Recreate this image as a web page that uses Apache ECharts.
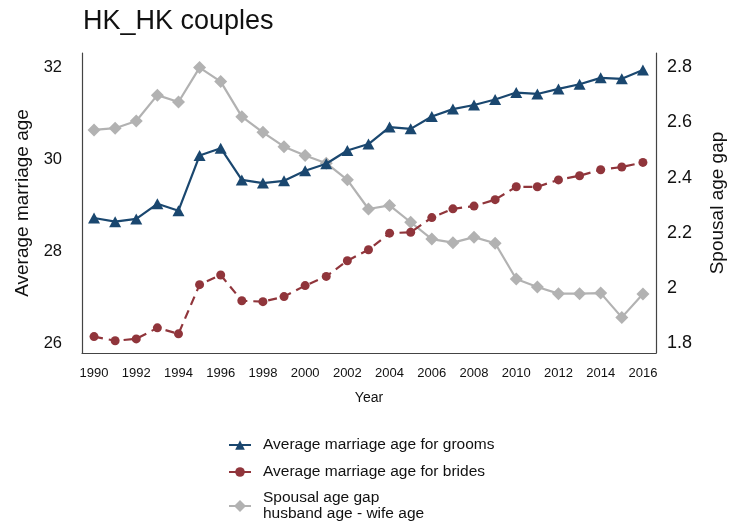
<!DOCTYPE html>
<html>
<head>
<meta charset="utf-8">
<script src="https://cdn.jsdelivr.net/npm/echarts@6/dist/echarts.min.js"></script>
<style>
  html, body { margin: 0; padding: 0; background: #ffffff; }
  #chart { width: 731px; height: 525px; }
</style>
</head>
<body>
<div id="chart"></div>
<script>
// Years on the x axis and the labelled ticks
const years = [1990, 1991, 1992, 1993, 1994, 1995, 1996, 1997, 1998, 1999,
               2000, 2001, 2002, 2003, 2004, 2005, 2006, 2007, 2008, 2009,
               2010, 2011, 2012, 2013, 2014, 2015, 2016];
const yearTicks = [1990, 1992, 1994, 1996, 1998, 2000, 2002, 2004, 2006, 2008, 2010, 2012, 2014, 2016];
const ageTicks = [26, 28, 30, 32];
const gapTicks = [1.8, 2.0, 2.2, 2.4, 2.6, 2.8];

// Series names as shown in the legend
const seriesNames = [
  'Average marriage age for grooms',
  'Average marriage age for brides',
  'Spousal age gap\nhusband age - wife age'
];

// Average marriage age (left axis)
const groomAge = [28.72, 28.64, 28.70, 29.03, 28.88, 30.08, 30.24, 29.55, 29.48, 29.53,
                  29.75, 29.90, 30.19, 30.33, 30.70, 30.66, 30.93, 31.09, 31.18, 31.30,
                  31.45, 31.42, 31.53, 31.63, 31.77, 31.75, 31.94];
const brideAge = [26.14, 26.05, 26.09, 26.33, 26.20, 27.27, 27.48, 26.92, 26.90, 27.01,
                  27.25, 27.45, 27.79, 28.03, 28.39, 28.41, 28.73, 28.92, 28.98, 29.12,
                  29.40, 29.40, 29.55, 29.64, 29.77, 29.83, 29.93];
// Spousal age gap (right axis)
const ageGap = [2.573, 2.579, 2.605, 2.699, 2.674, 2.799, 2.748, 2.621, 2.564, 2.512,
                2.480, 2.452, 2.392, 2.286, 2.299, 2.238, 2.177, 2.164, 2.184, 2.162,
                2.032, 2.003, 1.979, 1.979, 1.981, 1.893, 1.978];

const pairs = (ys) => years.map((x, i) => [x, ys[i]]);

const FONT = '"Liberation Sans", Arial, Helvetica, sans-serif';
const AXIS_COLOR = '#444444';

// One legend block per row so each row sits at its own height
const legendRow = (name, top, iconHeight) => ({
  orient: 'vertical',
  left: 228,
  top: top,
  padding: 0,
  itemWidth: 22,
  itemHeight: iconHeight,
  textStyle: { fontFamily: FONT, fontSize: 15.5, color: '#111111', lineHeight: 16, padding: [0, 0, 0, 7] },
  data: [name]
});

const chart = echarts.init(document.getElementById('chart'), null, { renderer: 'canvas' });

chart.setOption({
  animation: false,
  backgroundColor: '#ffffff',
  textStyle: { fontFamily: FONT, color: '#111111' },
  title: {
    text: 'HK_HK couples',
    left: 78,
    top: 3,
    textStyle: { fontFamily: FONT, fontSize: 27, fontWeight: 'normal', color: '#111111' }
  },
  grid: { left: 82, right: 75, top: 53, bottom: 172, containLabel: false, outerBoundsMode: 'none' },
  xAxis: {
    type: 'value',
    min: 1989.43,
    max: 2016.62,
    name: 'Year',
    nameLocation: 'middle',
    nameGap: 38,
    nameTextStyle: { fontFamily: FONT, fontSize: 14, color: '#111111' },
    axisLine: { show: true, lineStyle: { color: AXIS_COLOR, width: 1.2 } },
    axisTick: { show: false },
    splitLine: { show: false },
    axisLabel: {
      customValues: yearTicks,
      margin: 14,
      fontFamily: FONT,
      fontSize: 13,
      color: '#111111',
      formatter: (v) => String(v)
    }
  },
  yAxis: [
    {
      type: 'value',
      position: 'left',
      min: 25.783,
      max: 32.311,
      name: 'Average marriage age',
      nameLocation: 'middle',
      nameGap: 48,
      nameTextStyle: { fontFamily: FONT, fontSize: 19, color: '#111111' },
      axisLine: { show: true, lineStyle: { color: AXIS_COLOR, width: 1.2 } },
      axisTick: { show: false },
      splitLine: { show: false },
      axisLabel: {
        customValues: ageTicks,
        margin: 20,
        fontFamily: FONT,
        fontSize: 16.5,
        color: '#111111',
        formatter: (v) => String(Math.round(v))
      }
    },
    {
      type: 'value',
      position: 'right',
      min: 1.7638,
      max: 2.8518,
      name: 'Spousal age gap',
      nameLocation: 'middle',
      nameGap: 52,
      nameRotate: 90,
      nameTextStyle: { fontFamily: FONT, fontSize: 19, color: '#111111' },
      axisLine: { show: true, lineStyle: { color: AXIS_COLOR, width: 1.2 } },
      axisTick: { show: false },
      splitLine: { show: false },
      axisLabel: {
        customValues: gapTicks,
        margin: 11,
        fontFamily: FONT,
        fontSize: 18,
        color: '#111111',
        formatter: (v) => String(+(+v).toFixed(1))
      }
    }
  ],
  legend: [
    legendRow(seriesNames[0], 437, 12),
    legendRow(seriesNames[1], 464, 12),
    legendRow(seriesNames[2], 490, 15)
  ],
  series: [
    {
      name: seriesNames[0],
      type: 'line',
      yAxisIndex: 0,
      data: pairs(groomAge),
      symbol: 'triangle',
      symbolSize: [12, 11],
      lineStyle: { color: '#1a476f', width: 2.2 },
      itemStyle: { color: '#1a476f' },
      z: 4
    },
    {
      name: seriesNames[1],
      type: 'line',
      yAxisIndex: 0,
      data: pairs(brideAge),
      symbol: 'circle',
      symbolSize: 9,
      lineStyle: { color: '#90353b', width: 2.2, type: [9, 6] },
      itemStyle: { color: '#90353b' },
      z: 3
    },
    {
      name: seriesNames[2],
      type: 'line',
      yAxisIndex: 1,
      data: pairs(ageGap),
      symbol: 'diamond',
      symbolSize: 13,
      lineStyle: { color: '#b2b2b2', width: 2.2 },
      itemStyle: { color: '#b2b2b2' },
      z: 2
    }
  ]
});
</script>
</body>
</html>
